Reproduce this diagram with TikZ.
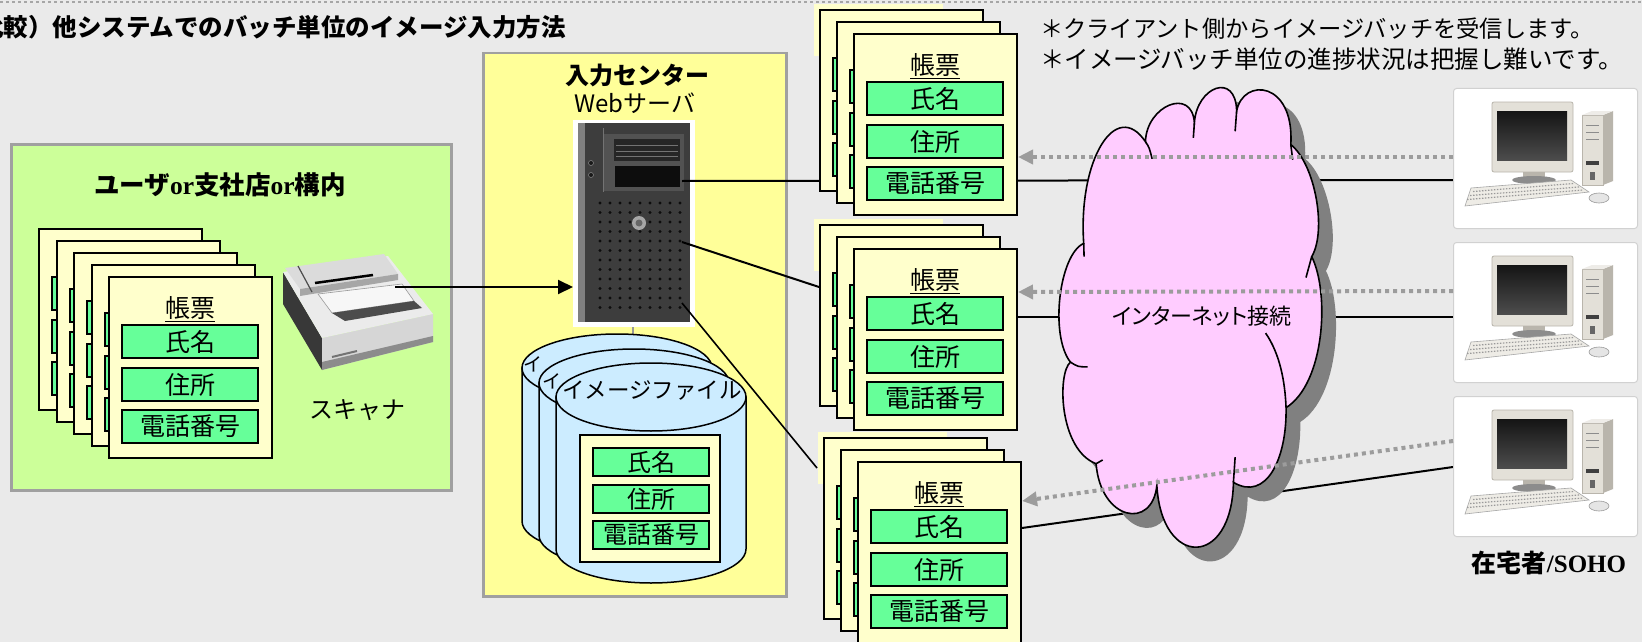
\documentclass[tikz,border=0pt]{standalone}
\usepackage{fontspec}
\usepackage{graphicx}
\setmainfont{Noto Sans CJK JP}
\newfontfamily\jpprop{Noto Sans CJK JP}[RawFeature=+palt]
\newfontfamily\romanbold{Liberation Serif}
\usetikzlibrary{arrows.meta,calc}

\definecolor{bgc}{HTML}{EAEAEA}
\definecolor{frameg}{HTML}{A0A0A0}
\definecolor{userg}{HTML}{CCFF99}
\definecolor{centery}{HTML}{FFFF99}
\definecolor{pagey}{HTML}{FFFFCC}
\definecolor{fieldg}{HTML}{66FF99}
\definecolor{cylb}{HTML}{CCECFF}
\definecolor{cloudp}{HTML}{FFCCFF}
\definecolor{shadowg}{HTML}{808080}
\definecolor{dotg}{HTML}{9C9C9C}
\definecolor{pcbeige}{HTML}{E3E0D8}
\definecolor{pcedge}{HTML}{B9B5AC}
\definecolor{kbgray}{HTML}{EEECE6}

\pgfdeclarelayer{base}
\pgfdeclarelayer{wires}
\pgfsetlayers{base,wires,main}

\newcommand\fsz[1]{\fontsize{#1}{#1}\selectfont}

% one form sheet: name, x, y (top left), heading, three fields
\newcommand\docpage[7]{%
  \node[docpg] (#1) at (#2,#3) {};
  \node[lbl, font=\fsz{25}] (#1-h) at ($(#1.north west)+(82,33)$) {#4};
  \node[fieldbox] (#1-a) at ($(#1.north west)+(13,48)$) {#5};
  \node[fieldbox] (#1-b) at ($(#1.north west)+(13,91)$) {#6};
  \node[fieldbox] (#1-c) at ($(#1.north west)+(13,133)$) {#7};
}
\newcommand\blankpage[3]{\docpage{#1}{#2}{#3}{}{}{}{}}
% a batch of three sheets with a highlight patch behind
\newcommand\formstack[3]{%
  \fill[pagey] ({#2-39},{#3-29}) rectangle ({#2+90},{#3+23});
  \blankpage{#1x}{#2-34}{#3-24}
  \blankpage{#1y}{#2-17}{#3-12}
  \docpage{#1}{#2}{#3}{\underline{帳票}}{氏名}{住所}{電話番号}
}
% storage cylinder: centre x, top y, bottom y
\newcommand\cylinder[3]{%
  \path[draw=black, line width=1.5, fill=cylb] (#1-95,#2) -- (#1-95,#3)
     arc[start angle=180, end angle=0, x radius=95, y radius=34] -- (#1+95,#2) -- cycle;
  \path[draw=black, line width=1.5, fill=cylb] (#1,#2) ellipse [x radius=95, y radius=34];
}
% client workstation in a white frame
\newcommand\workstation[2]{%
  \node[pcframe] (#1) at (1453,#2) {};
  \begin{scope}[shift={(#1.north west)}]
    \fill[pcbeige, draw=pcedge, line width=0.8, rounded corners=2] (39,14) rectangle (120,84);
    \shade[top color=black!92, bottom color=black!70] (44,23) rectangle (114,72);
    \fill[pcedge] (70,84) rectangle (92,90);
    \fill[black!45] (81,92) ellipse [x radius=22, y radius=4];
    \fill[pcbeige, draw=pcedge, line width=0.8] (129,27) rectangle (150,97);
    \fill[pcedge] (150,27) -- (160,23) -- (160,93) -- (150,97) -- cycle;
    \fill[pcbeige!60!white] (129,27) -- (139,23) -- (160,23) -- (150,27) -- cycle;
    \draw[black!45, line width=1] (133,37) -- (146,37) (133,44) -- (146,44) (133,51) -- (146,51);
    \fill[black!75] (133,73) rectangle (146,77);
    \fill[black!60] (137,84) rectangle (142,92);
    \fill[kbgray, draw=black!35, line width=0.6] (18,100) -- (118,92) -- (136,104) -- (12,118) -- cycle;
    \draw[black!40, line width=1.2, dash pattern=on 1.5pt off 1.5pt]
      (20,103.5) -- (121,95.5) (17,107.5) -- (126,99) (14,111.5) -- (130,102);
    \fill[black!10, draw=black!40, line width=0.6] (146,110) ellipse [x radius=10, y radius=5];
  \end{scope}
}
% cloud outline
\newcommand\cloudpath[1]{%
  \path[#1] (1086,253) .. controls (1080,165) and (1120,100) .. (1151,146)
    .. controls (1152,108) and (1200,88) .. (1202.5,126)
    .. controls (1205,88) and (1246,72) .. (1247,113.6)
    .. controls (1254,78) and (1308,82) .. (1304,149)
    .. controls (1330,170) and (1342,240) .. (1326,267)
    .. controls (1345,305) and (1340,400) .. (1299,426)
    .. controls (1300,480) and (1278,525) .. (1243.6,504.6)
    .. controls (1242,595) and (1168,595) .. (1163,508)
    .. controls (1158,555) and (1104,545) .. (1099,485)
    .. controls (1060,470) and (1058,390) .. (1072,378)
    .. controls (1050,350) and (1060,265) .. (1086,253) -- cycle;
}

\begin{document}
\begin{tikzpicture}[x=1pt, y=-1pt,
  lbl/.style={inner sep=0, outer sep=0},
  area/.style={draw=frameg, line width=2.5, inner sep=0, anchor=north west},
  docpg/.style={draw=black, line width=2, fill=pagey, minimum width=163, minimum height=181, inner sep=0, anchor=north west},
  fieldbox/.style={draw=black, line width=2, fill=fieldg, minimum width=136, minimum height=33, inner sep=0, anchor=north west, font=\fsz{25}},
  smallfield/.style={fieldbox, minimum width=116, minimum height=28, font=\fsz{24}},
  wire/.style={draw=black, line width=2},
  dotwire/.style={draw=dotg, line width=4, dash pattern=on 4pt off 4pt, -{Triangle[length=15pt, width=14pt]}},
  pcframe/.style={draw=black!18, line width=1, fill=white, rounded corners=3, minimum width=184, minimum height=140, inner sep=0, anchor=north west}]
\useasboundingbox (0,0) rectangle (1642,642);
\clip (0,0) rectangle (1642,642);

\begin{pgfonlayer}{base}
  \fill[bgc] (0,0) rectangle (1642,642);
  \draw[black!35, line width=1.5, dash pattern=on 3pt off 3pt] (0,2) -- (1642,2);

  % headings
  \node[lbl, anchor=east, font={\fsz{24.5}\bfseries}] (title) at (566,27) {比較）他システムでのバッチ単位のイメージ入力方法};
  \node[lbl, anchor=west, font=\fsz{23.3}] (note1) at (1040,29) {＊クライアント側からイメージバッチを受信します。};
  \node[lbl, anchor=west, font=\fsz{24.5}] (note2) at (1040,59) {＊イメージバッチ単位の進捗状況は把握し難いです。};

  % user side
  \node[area, fill=userg, minimum width=440, minimum height=346] (userarea) at (10,143) {};
  \node[lbl, font={\fsz{25.5}\bfseries}] (usertitle) at (220,185) {ユーザ{\romanbold or}支社店{\romanbold or}構内};
  \blankpage{u1}{38}{228}
  \blankpage{u2}{55.5}{240}
  \blankpage{u3}{73}{252}
  \blankpage{u4}{90.5}{264}
  \docpage{u5}{108}{276}{\underline{帳票}}{氏名}{住所}{電話番号}

  % scanner
  \node[lbl, minimum width=151, minimum height=113, anchor=north west] (scanner) at (282,257) {};
  \fill[black!78] (283,272) -- (322,338) -- (322,370) -- (283,304) -- cycle;
  \fill[black!16] (322,338) -- (433,314) -- (433,342) -- (322,370) -- cycle;
  \fill[black!45] (322,362) -- (433,336) -- (433,342) -- (322,370) -- cycle;
  \fill[black!8] (283,272) -- (388,256) -- (433,314) -- (322,338) -- cycle;
  \fill[black!14] (285,268) -- (384,254) -- (398,274) -- (300,289) -- cycle;
  \fill[black!35] (300,289) -- (398,274) -- (398,280) -- (300,296) -- cycle;
  \draw[black, line width=2.5] (315,283) -- (373,275);
  \draw[black!70, line width=1.2] (298,266) -- (312,292);
  \fill[black!3, draw=black!40, line width=0.6] (318,294) -- (402,284) -- (414,301) -- (332,313) -- cycle;
  \fill[black!70] (332,313) -- (414,301) -- (422,308) -- (345,321) -- cycle;
  \draw[black!55, line width=2] (332,357) -- (357,351);
  \node[lbl, font=\fsz{24}] (scanlbl) at (357,410) {スキャナ};

  % input centre
  \node[area, fill=centery, minimum width=303, minimum height=543] (center) at (482,52) {};
  \node[lbl, font={\fsz{24}\bfseries}] (centertitle) at (637,75) {入力センター};
  \node[lbl, font=\fsz{24}] (webtitle) at (635,103) {Webサーバ};

  % web server tower
  \node[lbl, fill=white, minimum width=122, minimum height=207, anchor=north west] (server) at (573,120) {};
  \fill[black!76] (578,123) rectangle (690,322);
  \fill[black!50] (578,123) rectangle (585,322);
  \fill[black!68] (604,134) rectangle (684,191);
  \fill[black!85] (614,139) rectangle (680,161);
  \draw[black!55, line width=0.8] (616,145) -- (678,145) (616,151) -- (678,151) (616,156) -- (678,156);
  \fill[black!95] (615,166) rectangle (680,187);
  \draw[black!55, line width=1] (603,128) -- (603,192);
  \fill[black!90, draw=black!50, line width=0.6] (591,163) circle (2.5) (591,175) circle (2.5);
  \foreach \i in {0,...,8}{\foreach \j in {0,...,11}{\fill[black!95] ({600+\i*10},{203+\j*9.5}) circle (1.7);}}
  \fill[black!35] (639,223) circle (7);
  \fill[black!60] (639,223) circle (3.5);
  \draw[black!40, line width=1.5] ($(server.south)+(-1,0)$) -- ($(server.south)+(-1,7)$);

  % image files: three stacked cylinders, only the front label is readable
  \cylinder{617}{368}{521}
  \node[lbl, font=\fsz{19}] (cylA) at (533,364) {イ};
  \cylinder{634}{383}{535}
  \node[lbl, font=\fsz{19}] (cylB) at (552,381) {イ};
  \cylinder{651}{397}{549}
  \node[lbl, font=\fsz{22.5}] (cylC) at (652,390) {イメージファイル};
  \node[lbl, draw=black, line width=2, fill=pagey, minimum width=140, minimum height=127, anchor=north west] (imgdoc) at (580,435) {};
  \node[smallfield] (img-a) at (592,447) {氏名};
  \node[smallfield] (img-b) at (592,484) {住所};
  \node[smallfield] (img-c) at (592,520) {電話番号};
\end{pgfonlayer}

% received batches
\formstack{st1}{853}{33}
\formstack{st2}{853}{248}
\formstack{st3}{857}{461}

% internet cloud
\begin{scope}[shift={(1040,60)}, scale=0.95, shift={(-1040,-60)}]
  \cloudpath{fill=shadowg, shift={(15,15)}}
  \cloudpath{fill=cloudp, draw=black, line width=1.6}
  \draw[line width=1.6]
    (1086,253) -- (1086.4,267)
    (1151,146) .. controls (1155,152) .. (1158,164)
    (1202.5,126) -- (1201.4,142)
    (1247,113.6) -- (1245.4,135)
    (1304,149) -- (1306,165)
    (1326,267) -- (1320,289)
    (1277.5,347.5) .. controls (1293,370) and (1298,400) .. (1299,426)
    (1243.6,504.6) -- (1245.4,478)
    (1099,485) -- (1106,481)
    (1072,378) .. controls (1080,383) .. (1090,383);
\end{scope}
\node[lbl, font={\jpprop\fsz{22}}] (net) at (1202,316) {インターネット接続};

% home / SOHO clients
\workstation{pc1}{88}
\workstation{pc2}{242}
\workstation{pc3}{396}
\node[lbl, font={\fsz{25}\bfseries}] (soho) at (1549,563) {在宅者{\romanbold /SOHO}};

% batch uploads from the clients
\draw[dotwire] ($(pc1.north west)+(0,69)$) -- ($(st1.north east)+(0,124)$);
\draw[dotwire] ($(pc2.north west)+(0,49)$) -- ($(st2.north east)+(0,44)$);
\draw[dotwire] ($(pc3.north west)+(0,45)$) -- ($(st3.north east)+(0,40)$);

% connections
\begin{pgfonlayer}{wires}
  \draw[wire, -{Triangle[length=15pt, width=14pt]}] ($(scanner.north west)+(113,30)$) -- (server.west |- 0,287);
  \coordinate (srv1) at ($(server.north west)+(109,61)$);
  \coordinate (srv2) at ($(server.north west)+(109,122)$);
  \coordinate (srv3) at ($(server.north west)+(109,183)$);
  \draw[wire] (srv1) -- ($(pc1.north west)+(0,92)$);
  \draw[wire] (srv2) -- ($(st2x.north west)+(0,63)$);
  \draw[wire, line width=1.6] (srv3) -- ($(st3x.north west)+(-6,31)$);
  \draw[wire] ($(st2.north east)+(0,69)$) -- ($(pc2.north west)+(0,75)$);
  \draw[wire] ($(st3.north east)+(0,67)$) -- ($(pc3.north west)+(0,71)$);
\end{pgfonlayer}
\end{tikzpicture}
\end{document}
